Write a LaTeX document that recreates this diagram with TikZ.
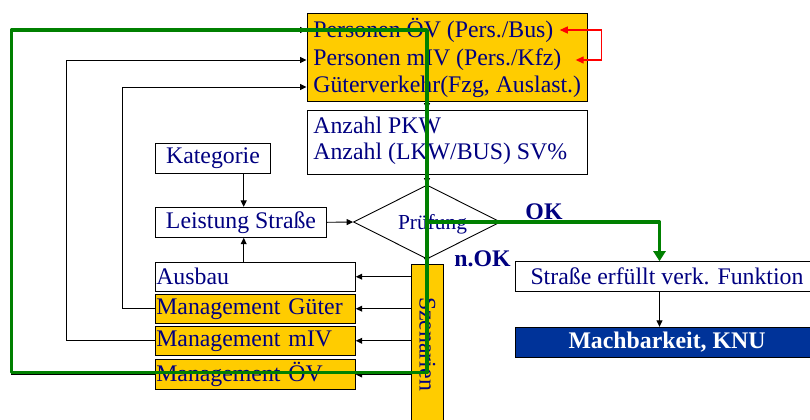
\documentclass[tikz,border=0pt]{standalone}
\usepackage{fontspec}
\setmainfont{Liberation Serif}
\usepackage{graphicx}
\usetikzlibrary{shapes.geometric,arrows.meta}
\definecolor{gelb}{RGB}{255,204,0}
\definecolor{dunkelblau}{RGB}{0,0,128}
\definecolor{knublau}{RGB}{0,51,153}
\definecolor{gruen}{RGB}{0,128,0}

\begin{document}
\begin{tikzpicture}[x=0.5pt,y=0.5pt,
  schrift/.style={font=\fontsize{11.9}{14}\selectfont,text=dunkelblau},
  fett/.style={font=\fontsize{11.9}{14}\selectfont\bfseries,text=dunkelblau,inner sep=0pt},
  zeile/.style={schrift,anchor=west,inner sep=0pt},
  kasten/.style={draw=black,line width=0.5pt,inner sep=0pt},
  stapel/.style={kasten,schrift,minimum width=100pt,minimum height=14.7pt,text width=99pt,align=left,inner xsep=0.5pt},
  pfeil/.style={-{Triangle[width=3pt,length=3.2pt]},line width=0.45pt},
  rotpfeil/.style={{Triangle[width=3.5pt,length=4pt]}-{Triangle[width=3.5pt,length=4pt]},red,line width=0.6pt},
  gruenpfad/.style={-{Triangle[width=6pt,length=5pt]},gruen,line width=1.7pt,line join=round}]
\useasboundingbox (0,0) rectangle (810,419);
\clip (0,0) rectangle (810,419);

\node[kasten,fill=gelb,minimum width=140pt,minimum height=44pt] (verkehr) at (447,362) {};
\node[zeile] (oev) at (313,389) {Personen ÖV (Pers./Bus)};
\node[zeile] (miv) at (313,359) {Personen mIV (Pers./Kfz)};
\node[zeile] (gueter) at (313,332) {Güterverkehr(Fzg, Auslast.)};

\node[kasten,minimum width=140pt,minimum height=32pt] (anzahl) at (447,277) {};
\node[zeile] (pkw) at (313,294) {Anzahl PKW};
\node[zeile] (lkw) at (313,265) {Anzahl (LKW/BUS) SV\%};

\node[kasten,schrift,minimum width=57.7pt,minimum height=15.2pt] (kategorie) at (213,260.5) {Kategorie};
\node[kasten,schrift,minimum width=85.7pt,minimum height=15pt] (leistung) at (241,196.7) {Leistung Straße};

\node[draw,shape=diamond,minimum width=73.5pt,minimum height=37pt,inner sep=0pt,line width=0.45pt] (pruefung) at (427,197) {};
\node[schrift,font=\fontsize{10.7}{12}\selectfont,inner sep=0pt] (prueftext) at (432.5,195) {Prüfung};
\node[fett] (oklabel) at (544,207.3) {OK};
\node[fett] (noklabel) at (482.5,160) {n.OK};

\node[stapel] (ausbau) at (255.3,142.3) {Ausbau};
\node[stapel,fill=gelb] (mgueter) at (255.3,110.3) {Management Güter};
\node[stapel,fill=gelb] (mmiv) at (255.3,78.2) {Management mIV};
\node[stapel,fill=gelb] (moev) at (255.3,44.5) {Management ÖV};

\node[kasten,fill=gelb,schrift,minimum width=15.8pt,minimum height=80pt] (szenarien) at (427.5,75) {\rotatebox{-90}{Szenarien}};

\node[kasten,schrift,minimum width=152pt,minimum height=15pt] (strasse) at (667,142.3) {Straße erfüllt verk. Funktion};
\node[kasten,fill=knublau,font=\fontsize{11.9}{14}\selectfont\bfseries,text=white,minimum width=152pt,minimum height=15pt] (machbar) at (667,76.7) {Machbarkeit, KNU};

\coordinate (achse) at (243.7,0);
\coordinate (okspalte) at (659.5,0);
\coordinate (links) at (11.5,46.3);

\draw[pfeil] (verkehr.south -| pruefung) -- (anzahl.north -| pruefung);
\draw[pfeil] (anzahl.south -| pruefung) -- (pruefung.north);
\draw[pfeil] (pruefung.south) -- (szenarien.north);
\draw[pfeil] (kategorie.south -| achse) -- (leistung.north -| achse);
\draw[pfeil] (ausbau.north -| achse) -- (leistung.south -| achse);
\draw[pfeil] (leistung.east) -- (pruefung.west);

\draw[pfeil] (szenarien.west |- ausbau) -- (ausbau.east);
\draw[pfeil] (szenarien.west |- mgueter) -- (mgueter.east);
\draw[pfeil] (szenarien.west |- mmiv) -- (mmiv.east);
\draw[pfeil] (szenarien.west |- moev) -- (moev.east);

\draw[pfeil] (mgueter.west) -- ++(-32,0) |- (verkehr.west |- gueter);
\draw[pfeil] (mmiv.west) -- ++(-88,0) |- (verkehr.west |- miv);
\draw[pfeil] (moev.west) -- ++(-143.8,0) |- (verkehr.west |- oev);

\draw[pfeil] (strasse.south -| okspalte) -- (machbar.north -| okspalte);

\draw[rotpfeil] ([xshift=3pt]oev.east) -| (601.7,373) |- ([xshift=7pt]miv.east);

\draw[gruenpfad] (pruefung.center) |- (links) |- (pruefung.center |- oev) -- (pruefung.center) -| (strasse.north -| okspalte);
\end{tikzpicture}
\end{document}
